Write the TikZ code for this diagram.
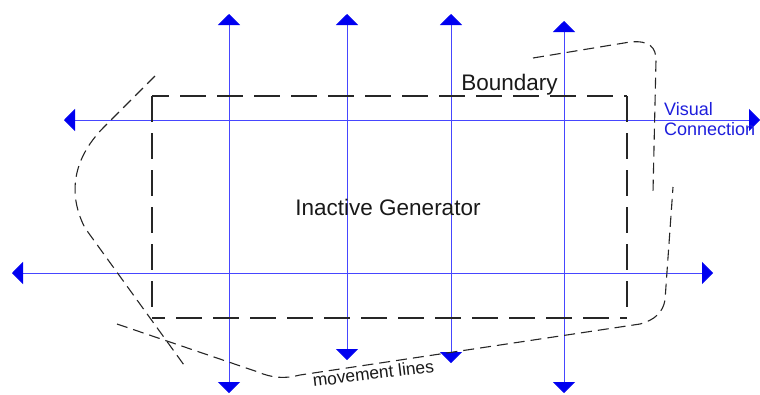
\documentclass[tikz,border=0pt]{standalone}
\usepackage{fontspec}
\setmainfont{Liberation Sans}
\usetikzlibrary{arrows.meta}
\definecolor{linkblue}{RGB}{70,70,255}
\definecolor{tipblue}{RGB}{0,0,240}
\definecolor{labelblue}{RGB}{30,30,220}
\tikzset{
  sightline/.style={draw=linkblue, line width=0.9pt,
    {Triangle[width=22pt,length=11pt,color=tipblue]}-{Triangle[width=22pt,length=11pt,color=tipblue]}},
  wallline/.style={draw=black!85, line width=2.2pt, dash pattern=on 26pt off 11pt},
  pathline/.style={draw=black!85, line width=1.1pt, dash pattern=on 11pt off 6pt},
  lbl/.style={inner sep=0pt, text=black!90}
}
\begin{document}
\begin{tikzpicture}[x=1pt, y=-1pt]
  \useasboundingbox (0,0) rectangle (760,394);

  % end points of the sight lines
  \coordinate (v1t) at (229,14);  \coordinate (v1b) at (229,393);
  \coordinate (v2t) at (347,14);  \coordinate (v2b) at (347,360);
  \coordinate (v3t) at (451,14);  \coordinate (v3b) at (451,363);
  \coordinate (v4t) at (564,21);  \coordinate (v4b) at (564,393);
  \coordinate (h1l) at (64,120);  \coordinate (h1r) at (760,120);
  \coordinate (h2l) at (12,273);  \coordinate (h2r) at (713,273);

  % visual connections
  \draw[sightline] (v1b) -- (v1t);
  \draw[sightline] (v2b) -- (v2t);
  \draw[sightline] (v3b) -- (v3t);
  \draw[sightline] (v4b) -- (v4t);
  \draw[sightline] (h1l) -- (h1r);
  \draw[sightline] (h2l) -- (h2r);

  % generator boundary
  \coordinate (bnw) at (152,96);
  \coordinate (bse) at (627,318);
  \draw[wallline] (152,96) -- (152,318);
  \draw[wallline, dash phase=13pt] (152,318) -- (627,318);
  \draw[wallline] (627,96) -- (627,318);
  \draw[wallline, dash phase=9pt] (152,96) -- (627,96);

  % movement lines
  \draw[pathline] (155,76) -- (103,128)
      .. controls (72,160) and (68,195) .. (85,228) -- (184,365);
  \draw[pathline] (117,324) -- (258,372)
      .. controls (272,378) and (285,379) .. (300,375) -- (640,324)
      .. controls (655,320) and (663,312) .. (665,300) -- (673,187);
  \draw[pathline] (533,58) -- (630,42)
      .. controls (650,40) and (656,48) .. (656,60) -- (653,192);

  % labels
  \node[lbl, font=\fontsize{22.5}{26}\selectfont] (gen) at (388,207) {Inactive Generator};
  \node[lbl, font=\fontsize{22.5}{26}\selectfont, anchor=base] (bnd) at (509.5,90) {Boundary};
  \node[lbl, text=labelblue, font=\fontsize{18}{20}\selectfont, anchor=base west] (vis1) at (664,115) {Visual};
  \node[lbl, text=labelblue, font=\fontsize{18}{20}\selectfont, anchor=base west] (vis2) at (664,135) {Connection};
  \node[lbl, font=\fontsize{17.4}{20}\selectfont, anchor=base, rotate=7] (mov) at (374,379.5) {movement lines};
\end{tikzpicture}
\end{document}
